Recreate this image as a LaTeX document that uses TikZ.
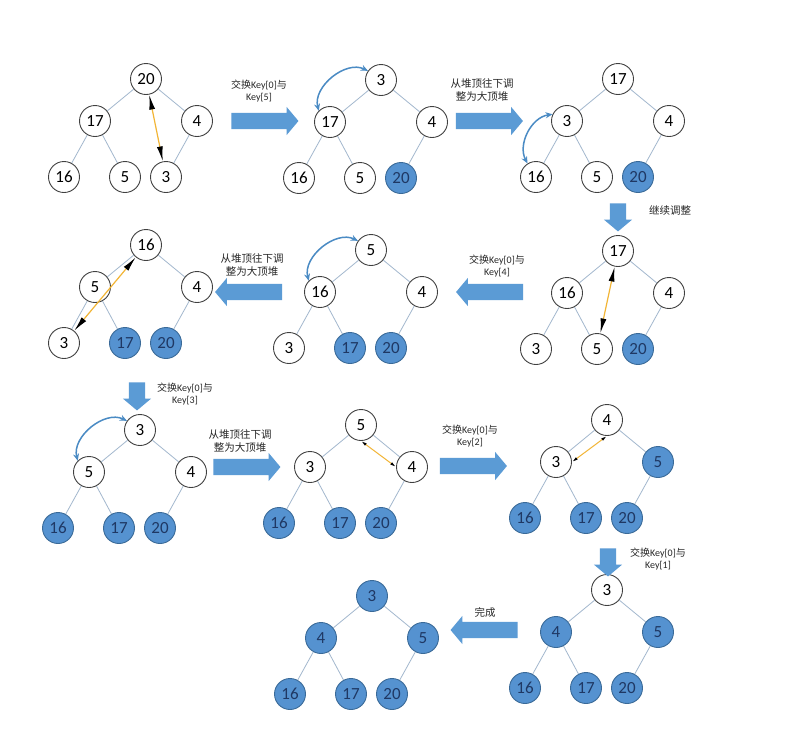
\documentclass[tikz,border=0pt]{standalone}
\usepackage{fontspec}
\setmainfont{Carlito}
\newfontfamily\cjk{Noto Sans CJK SC}
\usetikzlibrary{arrows.meta, shapes.arrows}
\definecolor{heapblue}{HTML}{5592D0}
\definecolor{heapline}{HTML}{3A6A98}
\definecolor{heaptext}{HTML}{1F3864}
\definecolor{edgegray}{HTML}{A3B8CE}
\definecolor{swapgold}{HTML}{F2B535}
\definecolor{arcblue}{HTML}{4A8BC4}
\definecolor{gofill}{HTML}{5B9BD5}
\tikzset{
  keynode/.style = {circle, draw = black!75, fill = white, line width = 0.9pt,
    minimum size = 31pt, inner sep = 0pt, font = \fontsize{17}{17}\selectfont},
  keydone/.style = {keynode, draw = heapline, fill = heapblue, text = heaptext},
  treeedge/.style = {draw = edgegray, line width = 0.8pt},
  swaparrow/.style = {draw = swapgold, line width = 1.2pt,
    {Latex[black, length = 15pt, width = 6pt]}-{Latex[black, length = 15pt, width = 6pt]}},
  swapshort/.style = {draw = swapgold, line width = 1pt,
    {Latex[black, length = 6pt, width = 3pt]}-{Latex[black, length = 6pt, width = 3pt]}},
  arcarrow/.style = {draw = arcblue, line width = 1.5pt,
    {Stealth[length = 7pt, width = 6pt]}-{Stealth[length = 7pt, width = 6pt]}},
  goright/.style = {single arrow, fill = gofill, draw = none, inner sep = 8pt,
    single arrow head extend = 6pt, single arrow tip angle = 100, minimum height = 67pt},
  goleft/.style = {goright, shape border rotate = 180},
  godown/.style = {goright, shape border rotate = 270, minimum height = 28pt},
  steplabel/.style = {align = center, font = \fontsize{10}{12.5}\selectfont, text = black!85},
  cjklabel/.style = {steplabel, font = \cjk\fontsize{10.5}{13.5}\selectfont}
}
\begin{document}
\begin{tikzpicture}[x = 1pt, y = -1pt]
  \fill[white] (0, 0) rectangle (795, 729);
  \useasboundingbox (0, 0) rectangle (795, 729);
  % heap: number / root x / root y / sorted keys / keys in array order
  \foreach \t/\x/\y/\k/\vals in {
      1/146/79/0/{20,17,4,16,5,3}, 2/381/80/1/{3,17,4,16,5,20},
      3/618/79/1/{17,3,4,16,5,20}, 4/618/251/1/{17,16,4,3,5,20},
      5/371/250/2/{5,16,4,3,17,20}, 6/146/245/2/{16,5,4,3,17,20},
      7/140/430/3/{3,5,4,16,17,20}, 8/361/425/3/{5,3,4,16,17,20},
      9/607/420/4/{4,3,5,16,17,20}, 10/607/590/5/{3,4,5,16,17,20},
      11/372/596/6/{3,4,5,16,17,20}} {
    \foreach \v [count = \i from 0] in \vals {
      \pgfmathsetmacro\dx{{0,-51,51,-82,-21,20}[\i]}
      \pgfmathsetmacro\dy{{0,42,42,98,98,98}[\i]}
      \ifnum\i<\numexpr6-\k\relax \def\st{keynode}\else \def\st{keydone}\fi
      \node[\st] (h\t-\i) at (\x + \dx, \y + \dy) {\v};
    }
    \foreach \p/\c in {0/1, 0/2, 1/3, 1/4, 2/5}
      \draw[treeedge] (h\t-\p) -- (h\t-\c);
  }

  % swaps
  \draw[swaparrow] (h1-0) -- (h1-5);
  \draw[swaparrow] (h4-0) -- (h4-4);
  \draw[swaparrow] (h6-0) -- (h6-3);
  \draw[swapshort] (h8-0.south) -- (h8-2.west);
  \draw[swapshort] (h9-0.south) -- (h9-1.east);
  \draw[arcarrow] (h2-1.135) to[bend left = 65] (h2-0.145);
  \draw[arcarrow] (h3-1.155) to[bend right = 55] (h3-3.122);
  \draw[arcarrow] (h5-1.135) to[bend left = 65] (h5-0.145);
  \draw[arcarrow] (h7-1.135) to[bend left = 65] (h7-0.145);

  % steps
  \node[goright] (go1) at (261.5, 121) {};
  \node[goright] (go2) at (486, 121) {};
  \node[godown] (go3) at (618, 214) {};
  \node[goleft] (go4) at (493, 292) {};
  \node[goleft] (go5) at (252, 292) {};
  \node[godown] (go6) at (137, 393) {};
  \node[goright] (go7) at (243.5, 467) {};
  \node[goright] (go8) at (470, 466) {};
  \node[godown] (go9) at (608, 559) {};
  \node[goleft] (go10) at (487.5, 630) {};

  \node[steplabel] (say1) at (259, 91) {{\cjk 交换}Key[0]{\cjk 与}\\Key[5]};
  \node[cjklabel] (say2) at (482, 90) {从堆顶往下调\\整为大顶堆};
  \node[cjklabel] (say3) at (670, 211) {继续调整};
  \node[steplabel] (say4) at (497, 266) {{\cjk 交换}Key[0]{\cjk 与}\\Key[4]};
  \node[cjklabel] (say5) at (252, 265) {从堆顶往下调\\整为大顶堆};
  \node[steplabel] (say6) at (185, 394) {{\cjk 交换}Key[0]{\cjk 与}\\Key[3]};
  \node[cjklabel] (say7) at (240, 441) {从堆顶往下调\\整为大顶堆};
  \node[steplabel] (say8) at (470, 436) {{\cjk 交换}Key[0]{\cjk 与}\\Key[2]};
  \node[steplabel] (say9) at (658, 559) {{\cjk 交换}Key[0]{\cjk 与}\\Key[1]};
  \node[cjklabel] (say10) at (485, 612) {完成};
\end{tikzpicture}
\end{document}
